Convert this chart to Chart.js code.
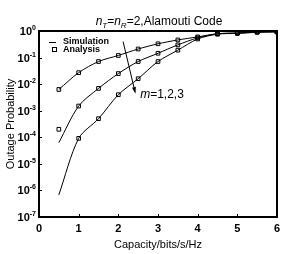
<!DOCTYPE html>
<html><head><meta charset="utf-8">
<script src="https://cdn.jsdelivr.net/npm/chart.js@4"></script>
<style>html,body{margin:0;padding:0;background:#fff}#c{display:block}</style>
</head><body>
<canvas id="c" width="304" height="254" style="width:304px;height:254px"></canvas>
<script>
const capacity = [0.5, 1, 1.5, 2, 2.5, 3, 3.5, 4, 4.5, 5, 5.5, 6];
const simM1 = [6.3e-3, 2.7e-2, 7.1e-2, 0.12, 0.21, 0.33, 0.46, 0.60, 0.79, 0.85, 0.93, 0.95];
const simM2 = [6.3e-5, 1.5e-3, 6.9e-3, 2.5e-2, 7.1e-2, 0.145, 0.30, 0.55, 0.78, 0.83, 0.91, 0.93];
const simM3 = [6.8e-7, 9.1e-5, 5.0e-4, 4.0e-3, 1.6e-2, 7.1e-2, 0.19, 0.50, 0.76, 0.81, 0.89, 0.93];
const anaM1 = [6.3e-3, 2.7e-2, 7.1e-2, 0.12, 0.21, 0.33, 0.46, 0.60, 0.79, 0.85, 0.93, 0.95];
const anaM2 = [2.0e-4, 1.5e-3, 6.9e-3, 2.5e-2, 7.1e-2, 0.145, 0.30, 0.55, 0.78, 0.83, 0.91, 0.93];
const anaM3 = [null, 9.1e-5, 5.0e-4, 4.0e-3, 1.6e-2, 7.1e-2, 0.19, 0.50, 0.76, 0.81, 0.89, 0.93];
const xTicks = [0, 1, 2, 3, 4, 5, 6];
const yTickExponents = [0, -1, -2, -3, -4, -5, -6, -7];
const arrowFrom = {x: 2.12, y: 0.40};
const arrowTo = {x: 2.42, y: 5.2e-3};
const arrowLabelAt = {x: 2.55, y: 4.0e-3};

const FONT = "'Liberation Sans', Arial, sans-serif";
const pts = arr => capacity.map((x, i) => ({x, y: arr[i]}));

const simStyle = {showLine: true, borderColor: '#000', borderWidth: 1, pointRadius: 0, fill: false, tension: 0.3};
const anaStyle = {showLine: false, pointStyle: 'rect', pointRadius: 2.6, pointBorderColor: '#000', pointBackgroundColor: 'rgba(255,255,255,0)', pointBorderWidth: 1};

const decor = {
  id: 'decor',
  afterDraw(chart) {
    const ctx = chart.ctx, a = chart.chartArea, xs = chart.scales.x, ys = chart.scales.y;
    ctx.save();
    ctx.strokeStyle = '#000'; ctx.lineWidth = 2;
    ctx.strokeRect(a.left, a.top, a.right - a.left, a.bottom - a.top);
    ctx.lineWidth = 1;
    ctx.beginPath();
    xTicks.forEach(v => { const px = Math.round(xs.getPixelForValue(v)) + 0.5; ctx.moveTo(px, a.bottom); ctx.lineTo(px, a.bottom - 3); });
    yTickExponents.forEach(e => { const py = Math.round(ys.getPixelForValue(Math.pow(10, e))) + 0.5; ctx.moveTo(a.left, py); ctx.lineTo(a.left + 3, py); });
    ctx.stroke();
    ctx.fillStyle = '#000';
    // x tick labels
    ctx.font = 'bold 11px ' + FONT; ctx.textAlign = 'center'; ctx.textBaseline = 'middle';
    xTicks.forEach(v => { ctx.fillText(String(v), xs.getPixelForValue(v), a.bottom + 12); });
    // y tick labels 10^e
    ctx.textBaseline = 'alphabetic'; ctx.textAlign = 'left';
    yTickExponents.forEach(e => {
      const py = ys.getPixelForValue(Math.pow(10, e));
      const sup = e === 0 ? '0' : '-' + Math.abs(e);
      ctx.font = 'bold 7px ' + FONT; const ws = ctx.measureText(sup).width;
      ctx.font = 'bold 11px ' + FONT; const wb = ctx.measureText('10').width;
      const right = a.left - 3;
      ctx.fillText('10', right - ws - wb, py + 4);
      ctx.font = 'bold 7px ' + FONT;
      ctx.fillText(sup, right - ws, py - 1);
    });
    // title
    const parts = [
      ['italic 12px ', 'n', 0], ['italic 8px ', 'T', 3], ['12px ', '=', 0],
      ['italic 12px ', 'n', 0], ['italic 8px ', 'R', 3], ['12px ', '=2,Alamouti Code', 0]
    ];
    let tw = 0;
    parts.forEach(p => { ctx.font = p[0] + FONT; tw += ctx.measureText(p[1]).width; });
    let tx = (a.left + a.right) / 2 - tw / 2 + 1;
    const ty = 25;
    parts.forEach(p => { ctx.font = p[0] + FONT; ctx.fillText(p[1], tx, ty + p[2]); tx += ctx.measureText(p[1]).width; });
    // legend
    const lx = a.left, ly = a.top;
    ctx.beginPath(); ctx.moveTo(lx + 10, ly + 11.5); ctx.lineTo(lx + 17, ly + 11.5); ctx.stroke();
    ctx.strokeRect(lx + 13.5, ly + 16.5, 4, 4);
    ctx.font = 'bold 9px ' + FONT; ctx.textBaseline = 'middle';
    ctx.fillText('Simulation', lx + 24, ly + 11);
    ctx.fillText('Analysis', lx + 24, ly + 18.5);
    // arrow
    const x0 = xs.getPixelForValue(arrowFrom.x), y0 = ys.getPixelForValue(arrowFrom.y);
    const x1 = xs.getPixelForValue(arrowTo.x), y1 = ys.getPixelForValue(arrowTo.y);
    ctx.beginPath(); ctx.moveTo(x0, y0); ctx.lineTo(x1, y1); ctx.stroke();
    const ang = Math.atan2(y1 - y0, x1 - x0);
    ctx.beginPath();
    ctx.moveTo(x1 + Math.cos(ang) * 2, y1 + Math.sin(ang) * 2);
    ctx.lineTo(x1 - Math.cos(ang - 0.4) * 5, y1 - Math.sin(ang - 0.4) * 5);
    ctx.lineTo(x1 - Math.cos(ang + 0.4) * 5, y1 - Math.sin(ang + 0.4) * 5);
    ctx.closePath(); ctx.fill();
    const mx = xs.getPixelForValue(arrowLabelAt.x), my = ys.getPixelForValue(arrowLabelAt.y);
    ctx.font = 'italic 12px ' + FONT; ctx.textBaseline = 'middle';
    ctx.fillText('m', mx, my);
    const mw = ctx.measureText('m').width;
    ctx.font = '12px ' + FONT;
    ctx.fillText('=1,2,3', mx + mw, my);
    ctx.restore();
  }
};

new Chart(document.getElementById('c'), {
  type: 'scatter',
  data: {
    datasets: [
      Object.assign({label: 'Simulation m=1', data: pts(simM1)}, simStyle),
      Object.assign({label: 'Simulation m=2', data: pts(simM2)}, simStyle),
      Object.assign({label: 'Simulation m=3', data: pts(simM3)}, simStyle),
      Object.assign({label: 'Analysis m=1', data: pts(anaM1)}, anaStyle),
      Object.assign({label: 'Analysis m=2', data: pts(anaM2)}, anaStyle),
      Object.assign({label: 'Analysis m=3', data: pts(anaM3)}, anaStyle)
    ]
  },
  options: {
    responsive: false, animation: false, devicePixelRatio: 1,
    layout: {padding: {top: 31, right: 27, left: 0, bottom: 0}},
    plugins: {legend: {display: false}, title: {display: false}, tooltip: {enabled: false}},
    scales: {
      x: {
        type: 'linear', min: 0, max: 6,
        afterBuildTicks: s => { s.ticks = xTicks.map(v => ({value: v})); },
        afterFit: s => { s.height = 37; },
        grid: {display: false}, border: {display: false},
        ticks: {display: false},
        title: {display: true, text: 'Capacity/bits/s/Hz', color: '#000', font: {family: FONT, size: 11}, padding: {top: 0, bottom: 2}}
      },
      y: {
        type: 'logarithmic', min: 1e-7, max: 1,
        afterBuildTicks: s => { s.ticks = yTickExponents.map(e => ({value: Math.pow(10, e)})); },
        afterFit: s => { s.width = 39; },
        grid: {display: false}, border: {display: false},
        ticks: {display: false},
        title: {display: true, text: 'Outage Probability', color: '#000', font: {family: FONT, size: 11}, padding: {top: 4, bottom: 0}}
      }
    }
  },
  plugins: [decor]
});
</script>
</body></html>
